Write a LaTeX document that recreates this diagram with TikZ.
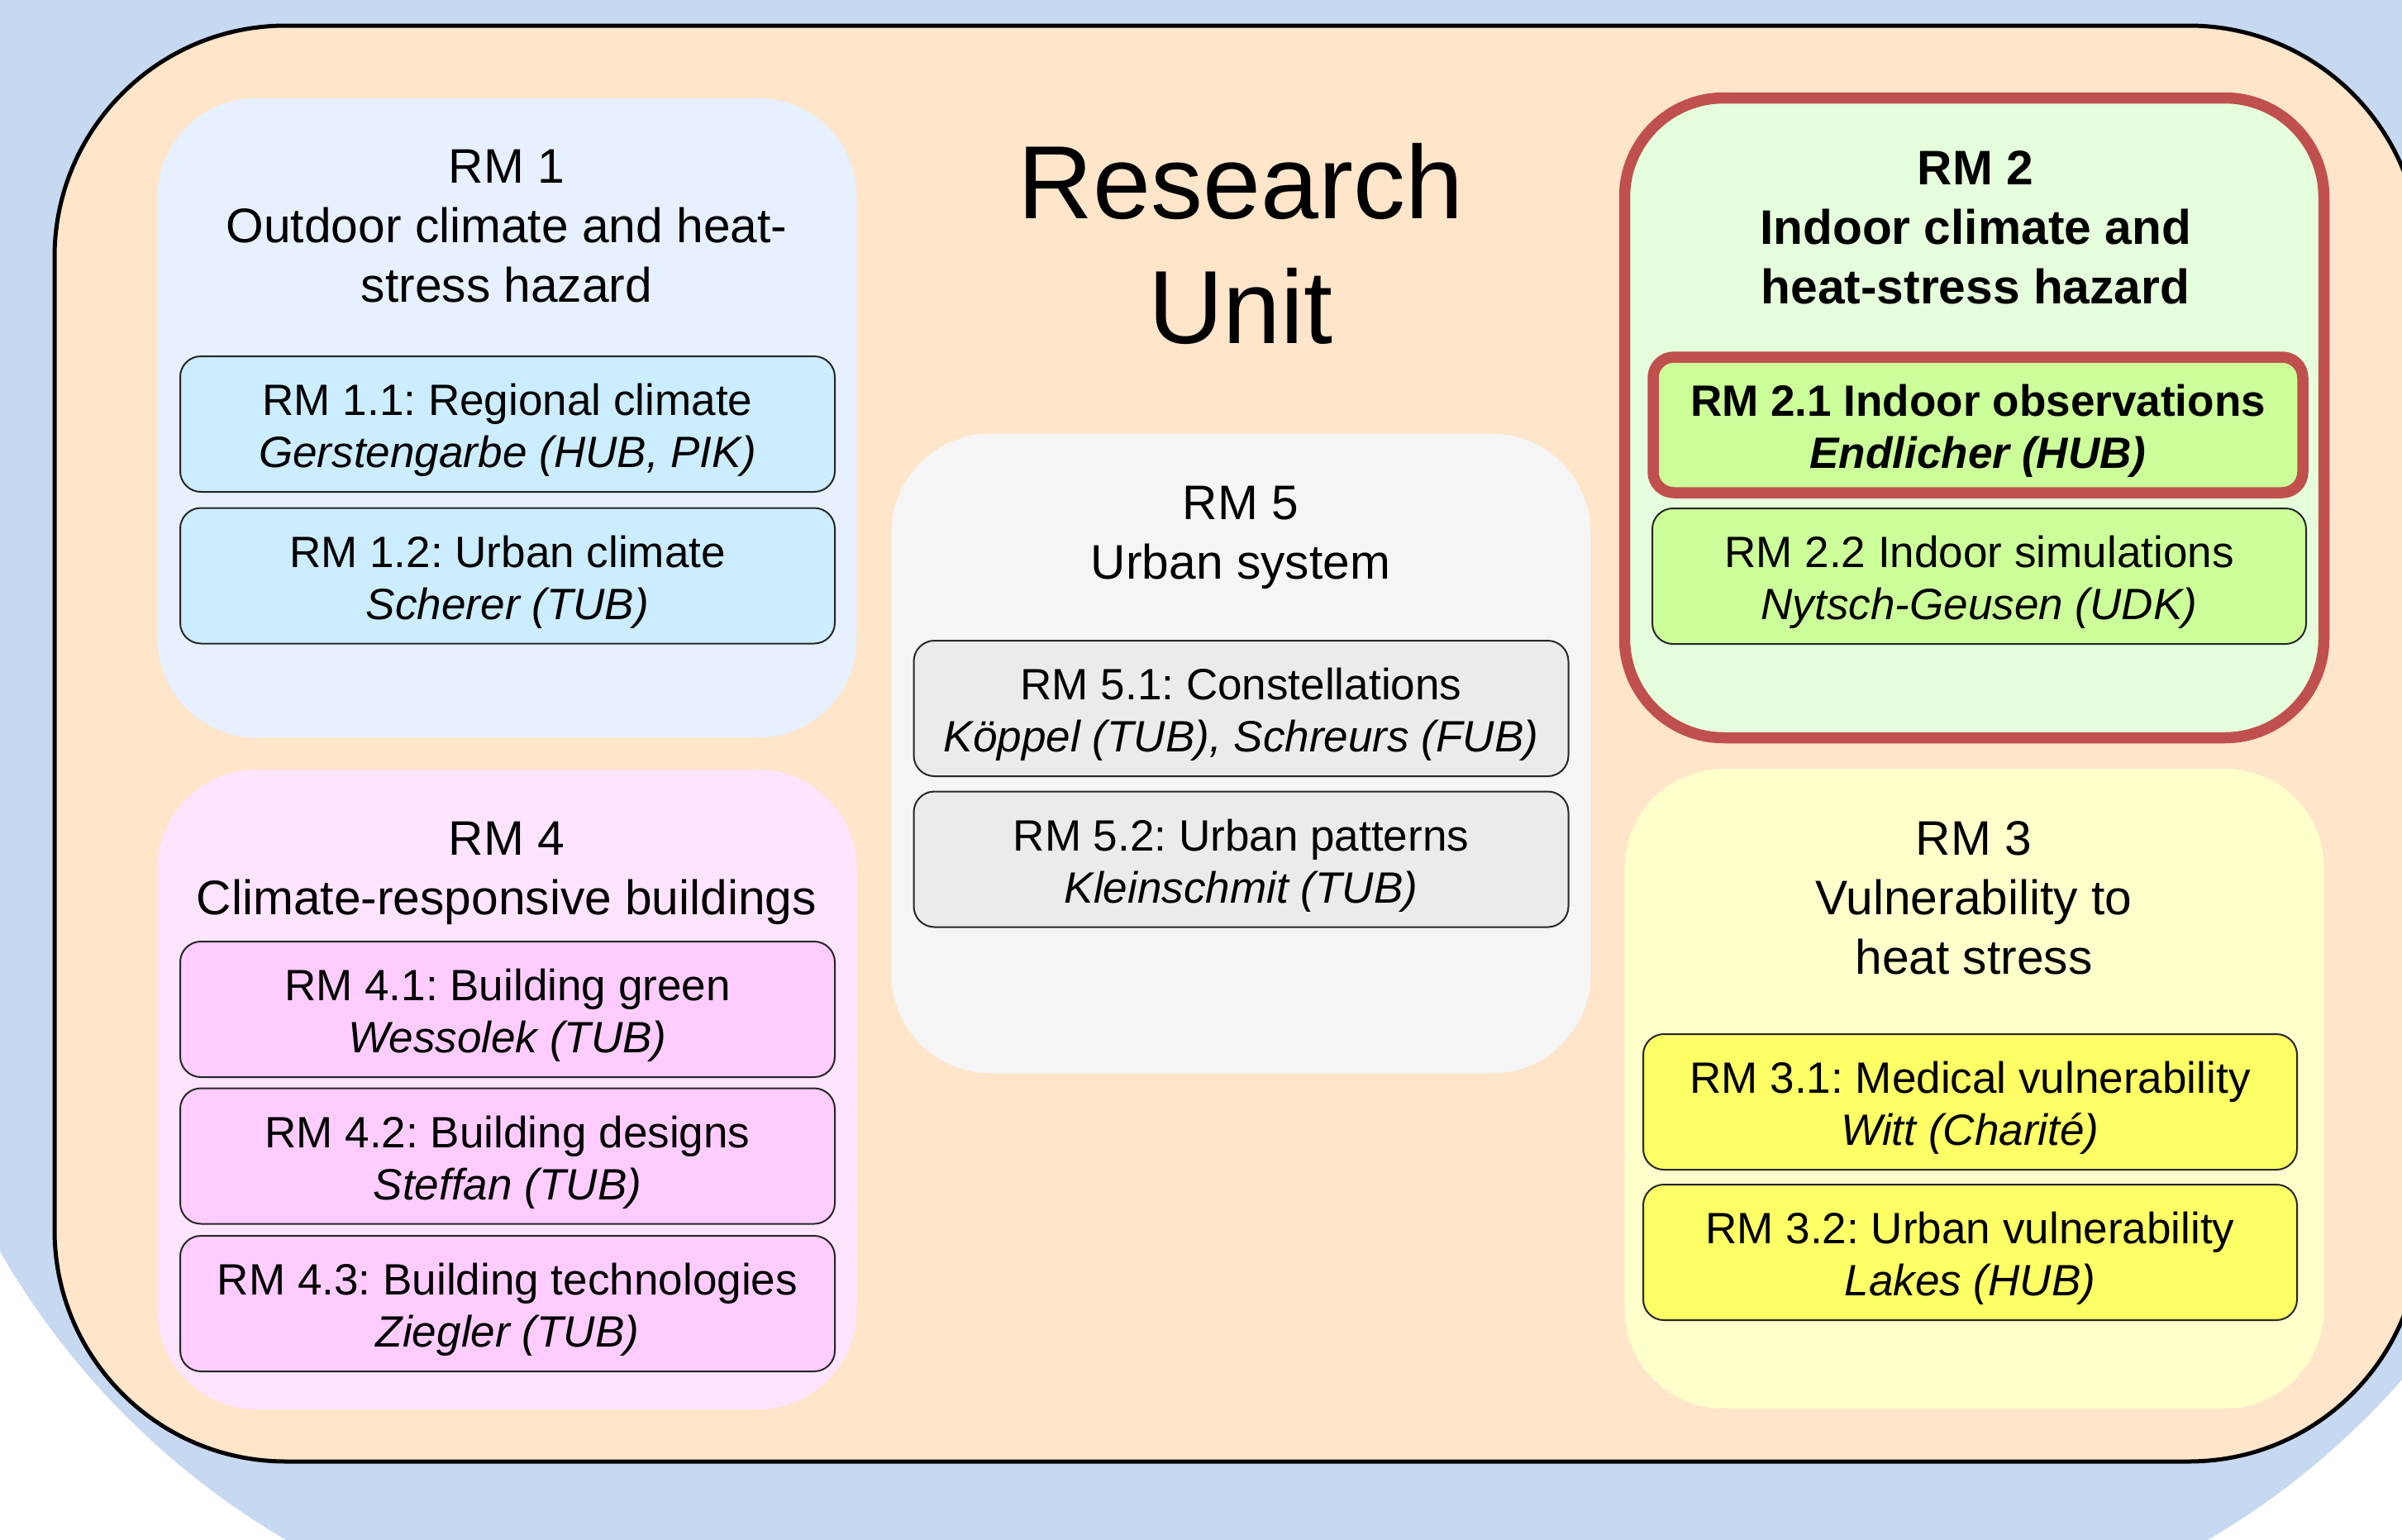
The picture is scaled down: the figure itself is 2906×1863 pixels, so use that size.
\documentclass[tikz,border=0pt]{standalone}
\usepackage{fontspec}
\setmainfont{Liberation Sans}
\frenchspacing
\definecolor{bgblue}{HTML}{C6D9F1}
\definecolor{unitfill}{HTML}{FFE5C9}
\definecolor{rmonefill}{HTML}{E6F0FF}
\definecolor{rmonesub}{HTML}{CCECFF}
\definecolor{rmfourfill}{HTML}{FFE4FF}
\definecolor{rmfoursub}{HTML}{FFCCFF}
\definecolor{rmfivefill}{HTML}{F5F5F5}
\definecolor{rmfivesub}{HTML}{EBEBEB}
\definecolor{rmtwofill}{HTML}{E5FFDC}
\definecolor{rmtwosub}{HTML}{CCFF99}
\definecolor{rmthreefill}{HTML}{FFFFCC}
\definecolor{rmthreesub}{HTML}{FFFF66}
\definecolor{hired}{HTML}{C0504D}
\newcommand\rmBody{\fontsize{15.1}{17.9}\selectfont\frenchspacing}
\newcommand\rmTitle{\fontsize{16.7}{20.5}\selectfont}
\newcommand\rmHuge{\fontsize{35.8}{43.2}\selectfont}
\newcommand\tstr{\rule{0pt}{1.0em}}
\tikzset{
  bigbox/.style={rectangle, rounded corners=12mm, minimum width=84.6mm, minimum height=77.4mm, inner sep=0pt, draw=none},
  subbox/.style={rectangle, rounded corners=2.5mm, minimum width=79.2mm, minimum height=16.4mm, draw=black!85, line width=0.2mm, align=center, inner sep=0pt, font=\rmBody},
  titletext/.style={align=center, inner sep=0pt, font=\rmTitle},
  hilite/.style={draw=hired, line width=1.35mm}
}
\begin{document}
\begin{tikzpicture}[x=0.1mm,y=-0.1mm]
\useasboundingbox (0,0) rectangle (2906,1863);
\clip (0,0) rectangle (2906,1863);
\fill[white] (0,0) rectangle (2906,1863);
\fill[bgblue, rounded corners=95.3mm] (-126,-1200) rectangle (3143,1993);
\draw[fill=unitfill, draw=black, line width=0.5mm, rounded corners=28mm] (66,31) rectangle (2928,1768);

% Research Unit title
\node[align=center, inner sep=0pt, font=\rmHuge] (ru) at (1501,295) {Research\\Unit};

% RM 1
\node[bigbox, fill=rmonefill] (rm1) at (613.5,505.5) {};
\node[titletext] (rm1t) at (613,274) {RM 1\\Outdoor climate and heat-\\stress hazard};
\node[subbox, fill=rmonesub] (rm11) at (614,513) {\tstr RM 1.1: Regional climate\\\textit{Gerstengarbe (HUB, PIK)}};
\node[subbox, fill=rmonesub] (rm12) at (614,696.5) {\tstr RM 1.2: Urban climate\\\textit{Scherer (TUB)}};

% RM 4
\node[bigbox, fill=rmfourfill] (rm4) at (613.5,1318) {};
\node[titletext] (rm4t) at (613,1056) {RM 4\\Climate-responsive buildings};
\node[subbox, fill=rmfoursub] (rm41) at (614,1221) {\tstr RM 4.1: Building green\\\textit{Wessolek (TUB)}};
\node[subbox, fill=rmfoursub] (rm42) at (614,1398.5) {\tstr RM 4.2: Building designs\\\textit{Steffan (TUB)}};
\node[subbox, fill=rmfoursub] (rm43) at (614,1577) {\tstr RM 4.3: Building technologies\\\textit{Ziegler (TUB)}};

% RM 5
\node[bigbox, fill=rmfivefill] (rm5) at (1501.5,911.5) {};
\node[titletext] (rm5t) at (1501,650) {RM 5\\Urban system};
\node[subbox, fill=rmfivesub] (rm51) at (1501.5,857) {\tstr RM 5.1: Constellations\\\textit{Köppel (TUB), Schreurs (FUB)}};
\node[subbox, fill=rmfivesub] (rm52) at (1501.5,1039.5) {\tstr RM 5.2: Urban patterns\\\textit{Kleinschmit (TUB)}};

% RM 2
\node[bigbox, fill=rmtwofill, hilite] (rm2) at (2388.5,505.5) {};
\node[titletext, font=\rmTitle\bfseries] (rm2t) at (2390,275) {RM 2\\Indoor climate and\\heat-stress hazard};
\node[subbox, fill=rmtwosub, hilite, minimum width=78.6mm, font=\rmBody\bfseries] (rm21) at (2393,514) {\tstr RM 2.1 Indoor observations\\\textit{Endlicher (HUB)}};
\node[subbox, fill=rmtwosub, minimum width=79.1mm] (rm22) at (2394.5,697) {\tstr RM 2.2 Indoor simulations\\\textit{Nytsch-Geusen (UDK)}};

% RM 3
\node[bigbox, fill=rmthreefill] (rm3) at (2388.5,1317) {};
\node[titletext] (rm3t) at (2388,1086) {RM 3\\Vulnerability to\\heat stress};
\node[subbox, fill=rmthreesub, minimum width=79.1mm] (rm31) at (2383.5,1333) {\tstr RM 3.1: Medical vulnerability\\\textit{Witt (Charité)}};
\node[subbox, fill=rmthreesub, minimum width=79.1mm] (rm32) at (2383.5,1515) {\tstr RM 3.2: Urban vulnerability\\\textit{Lakes (HUB)}};
\end{tikzpicture}
\end{document}
